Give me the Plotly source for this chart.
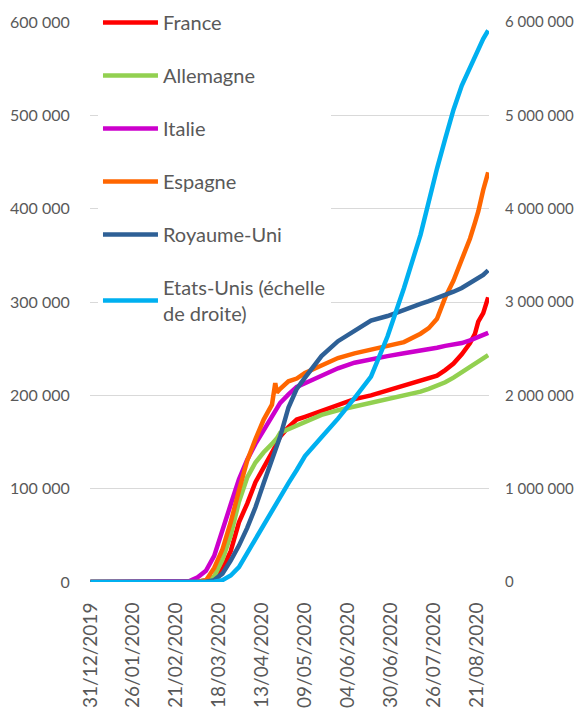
import plotly.graph_objects as go

# ---- data ----
dates = [
    "2019-12-31", "2020-02-19", "2020-02-24", "2020-02-29", "2020-03-05", "2020-03-10",
    "2020-03-15", "2020-03-20", "2020-03-25", "2020-03-30", "2020-04-04", "2020-04-09",
    "2020-04-14", "2020-04-19", "2020-04-21", "2020-04-22", "2020-04-24", "2020-04-29",
    "2020-05-04", "2020-05-09", "2020-05-19", "2020-05-29", "2020-06-08", "2020-06-18",
    "2020-06-28", "2020-07-08", "2020-07-18", "2020-07-23", "2020-07-28", "2020-08-02",
    "2020-08-07", "2020-08-12", "2020-08-17", "2020-08-20", "2020-08-22", "2020-08-25",
    "2020-08-28",
]

france = [0, 0, 0, 100, 400, 1800, 5400, 14000, 33000, 64000, 84000, 107000,
          122000, 138000, 145000, 149000, 156000, 166000, 174000, 177000, 183000, 190000,
          196000, 200000, 205000, 210000, 215000, 218000, 221000, 227000, 234000, 244000,
          256000, 266000, 279000, 288000, 305000]

allemagne = [0, 0, 0, 100, 500, 1500, 5800, 24000, 50000, 86000, 112000, 128000,
             139000, 148000, 152000, 154000, 160000, 164000, 168000, 171000, 179000, 184000,
             188000, 191000, 195000, 199000, 204000, 207000, 210000, 214000, 219000, 225000,
             231000, 234000, 237000, 240000, 243000]

italie = [0, 0, 200, 1100, 5000, 12000, 28000, 54000, 83000, 110000, 131000, 148000,
          162000, 178000, 183000, 186000, 192000, 201000, 209000, 213000, 221000, 229000,
          235000, 239000, 242000, 245000, 247500, 249000, 251000, 253000, 254000, 256000,
          259000, 261000, 262000, 264000, 267000]

espagne = [0, 0, 0, 50, 300, 1700, 15000, 35000, 64000, 98000, 130000, 153000,
           174000, 190000, 213000, 203000, 207000, 215000, 218000, 224000, 232000, 240000,
           245000, 249000, 252000, 257000, 266000, 272000, 282000, 305000, 323000, 345000,
           368000, 385000, 397000, 420000, 439000]

royaume_uni = [0, 0, 0, 0, 100, 300, 2000, 9000, 23000, 39000, 58000, 80000,
               106000, 131000, 141000, 146000, 156000, 187000, 207000, 219000, 242000, 258000,
               269000, 280000, 285000, 292000, 298000, 301000, 304000, 307000, 311000, 315000,
               320000, 323000, 325000, 329000, 334000]

etats_unis = [0, 0, 0, 0, 200, 1000, 4000, 20000, 70000, 160000, 310000, 460000,
              610000, 780000, 830000, 860000, 920000, 1060000, 1200000, 1350000, 1550000, 1750000,
              1970000, 2200000, 2630000, 3150000, 3720000, 4100000, 4430000, 4750000, 5060000, 5320000,
              5520000, 5640000, 5720000, 5820000, 5910000]

x_tick_dates = ["2019-12-31", "2020-01-26", "2020-02-21", "2020-03-18", "2020-04-13",
                "2020-05-09", "2020-06-04", "2020-06-30", "2020-07-26", "2020-08-21"]
x_tick_labels = ["31/12/2019", "26/01/2020", "21/02/2020", "18/03/2020", "13/04/2020",
                 "09/05/2020", "04/06/2020", "30/06/2020", "26/07/2020", "21/08/2020"]

y_left_vals = [0, 100000, 200000, 300000, 400000, 500000, 600000]
y_left_labels = ["0", "100 000", "200 000", "300 000", "400 000", "500 000", "600 000"]
y_right_vals = [0, 1000000, 2000000, 3000000, 4000000, 5000000, 6000000]
y_right_labels = ["0", "1 000 000", "2 000 000", "3 000 000", "4 000 000", "5 000 000", "6 000 000"]

series = [
    ("France", france, "#FF0000", "y"),
    ("Allemagne", allemagne, "#92D050", "y"),
    ("Italie", italie, "#CC00CC", "y"),
    ("Espagne", espagne, "#FF6600", "y"),
    ("Royaume-Uni", royaume_uni, "#2E6096", "y"),
    ("Etats-Unis (échelle<br>de droite)", etats_unis, "#00B0F0", "y2"),
]

fig = go.Figure()
for name, vals, color, axis in series:
    fig.add_trace(go.Scatter(
        x=dates, y=vals, name=name, mode="lines", yaxis=axis,
        legendgroup=name,
        line=dict(color=color, width=4.5),
    ))

grey = "#595959"
# The page body has an 8 px default margin, so the figure is 8 px smaller
# than the window on each axis and the top/left margins are shifted.
fig.update_layout(
    width=574, height=705,
    margin=dict(l=82, r=93, t=14, b=131, autoexpand=False),
    paper_bgcolor="white", plot_bgcolor="white",
    font=dict(family="Lato", size=16, color=grey),
    showlegend=True,
    legend=dict(
        x=0.02, y=1.034, xanchor="left", yanchor="top",
        bgcolor="white", font=dict(size=20, color=grey),
        tracegroupgap=24, itemwidth=55,
    ),
    xaxis=dict(
        type="date", range=["2019-12-30 18:00", "2020-08-28 12:00"],
        tickmode="array", tickvals=x_tick_dates, ticktext=x_tick_labels,
        tickangle=-90, tickfont=dict(size=19, color=grey),
        showgrid=False, zeroline=False, showline=False, automargin=False,
        ticks="outside", ticklen=12, tickcolor="rgba(0,0,0,0)",
    ),
    yaxis=dict(
        range=[0, 600000], tickmode="array", tickvals=y_left_vals, ticktext=y_left_labels,
        gridcolor="#D9D9D9", gridwidth=1, zeroline=False, showline=False, automargin=False,
        ticks="outside", ticklen=16, tickcolor="rgba(0,0,0,0)",
        tickfont=dict(size=16, color=grey),
    ),
    yaxis2=dict(
        overlaying="y", side="right",
        range=[0, 6000000], tickmode="array", tickvals=y_right_vals, ticktext=y_right_labels,
        showgrid=False, zeroline=False, showline=False, automargin=False,
        ticks="outside", ticklen=12, tickcolor="rgba(0,0,0,0)",
        tickfont=dict(size=15, color=grey),
    ),
)

fig.write_html("out.html")
